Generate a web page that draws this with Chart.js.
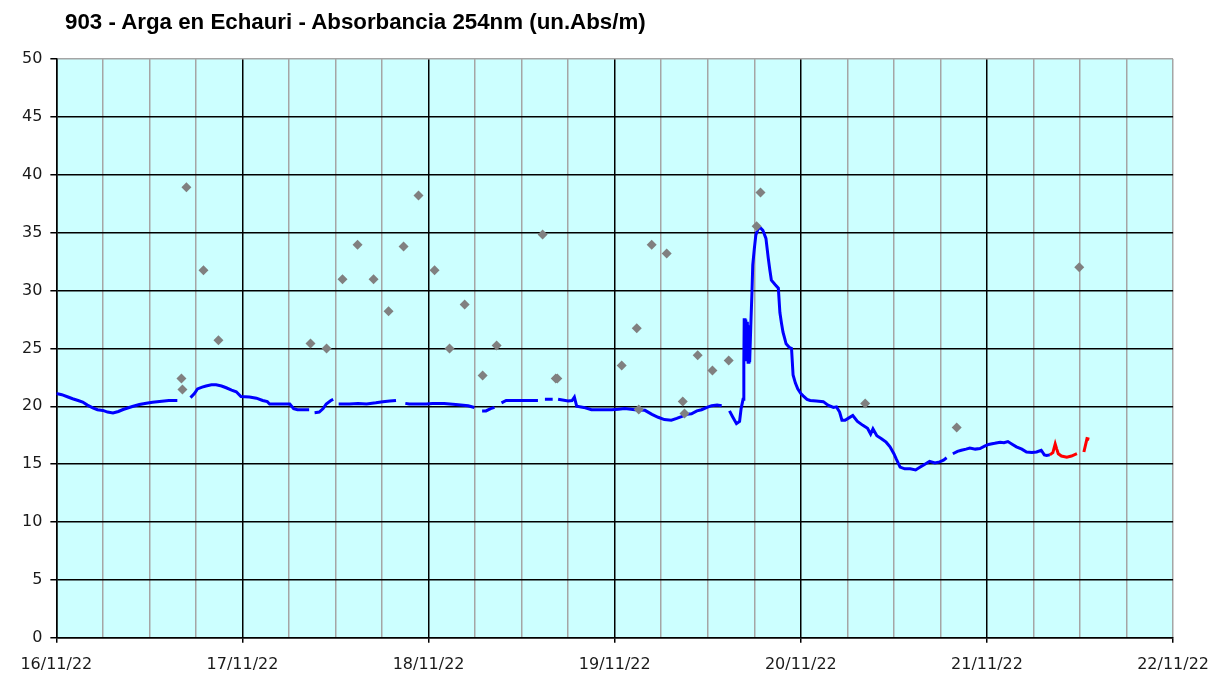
<!DOCTYPE html>
<html>
<head>
<meta charset="utf-8">
<script src="https://cdn.jsdelivr.net/npm/chart.js@4.4.0/dist/chart.umd.min.js"></script>
<style>
  body { margin: 0; background: #ffffff; overflow: hidden; }
  #wrap { width: 1221px; height: 675px; position: relative; }
  #title {
    position: absolute; left: 65px; top: 10px;
    font: bold 22.3px 'Liberation Sans', Arial, sans-serif;
    line-height: 24px; color: #000; white-space: nowrap;
  }
</style>
</head>
<body>
<div id="wrap">
  <div id="title">903 - Arga en Echauri - Absorbancia 254nm (un.Abs/m)</div>
  <canvas id="myChart"></canvas>
</div>
<script>
// hours counted from 16/11/22 00:00
var dayLabels = ['16/11/22', '17/11/22', '18/11/22', '19/11/22', '20/11/22', '21/11/22', '22/11/22'];

// Absorbancia validada (azul)
var blueHours = [0, 0.7, 1.5, 2.1, 2.8, 3.4, 4.0, 4.7, 5.3, 6.0, 6.6, 7.3, 8.0, 8.6, 9.2, 9.8, 10.7, 11.6, 12.4, 13.3, 14.5, 15.6,
  16.4, 17.3, 17.8, 18.2, 18.8, 19.3, 20.0, 20.6, 21.3, 21.9, 22.6, 23.2, 23.8, 24.9, 25.8, 26.6, 27.2, 27.5, 28.5, 30.1, 30.6, 31.1, 32.6,
  33.0, 33.3, 33.9, 34.4, 34.8, 35.4, 35.7, 36.0, 36.4, 37.8, 38.9, 40.0, 41.2, 42.1, 43.0, 43.8, 44.5, 45.0, 45.5, 46.6, 47.7,
  48.5, 50.0, 51.5, 53.1, 53.9, 54.5, 54.9, 55.4, 56.0, 56.5, 57.0, 57.4, 58.0, 60.0, 62.1, 62.6, 63.0, 64.0, 64.3, 64.7, 66.0, 66.5, 66.8, 67.1,
  68.0, 69.0, 70.3, 71.6, 72.5, 73.3, 74.6, 75.9, 76.8, 77.6, 78.4, 79.3, 80.0, 80.6, 81.3, 81.9, 82.6, 83.2, 83.9, 84.5, 85.2, 85.8,
  86.4, 86.8, 87.2, 87.7, 88.1, 88.3, 88.55, 88.65, 88.7, 88.8, 88.9, 89.0, 89.1, 89.2, 89.3, 89.4, 89.55, 89.7, 89.8, 90.0, 90.2, 90.5,
  90.8, 91.1, 91.5, 91.8, 92.0, 92.2, 92.7, 93.1, 93.3, 93.5, 93.7, 93.9, 94.1, 94.5, 94.8, 95.0, 95.3, 95.6, 96.0, 96.3, 96.8, 97.2,
  98.0, 98.9, 99.5, 100.2, 100.6, 101.0, 101.3, 101.7, 102.2, 102.7, 103.3, 104.0, 104.6, 105.0, 105.3, 105.8, 106.4, 107.0, 107.5,
  108.0, 108.3, 108.8, 109.4, 110.1, 110.8, 111.4, 112.0, 112.6, 113.3, 113.9, 114.4, 114.8, 115.2, 115.6, 116.2, 116.7, 117.3, 117.8,
  118.5, 119.1, 119.7, 120.2, 121.0, 121.7, 122.2, 122.7, 123.3, 123.8, 124.5, 125.1, 125.8, 126.4, 127.0, 127.4, 127.7, 128.1];
var blueValues = [21.1, 21.0, 20.8, 20.65, 20.5, 20.36, 20.1, 19.87, 19.7, 19.64, 19.5, 19.42, 19.55, 19.72, 19.85, 19.98, 20.15, 20.27, 20.35, 20.42, 20.5, 20.5,
  null, 20.75, 21.1, 21.5, 21.65, 21.75, 21.85, 21.85, 21.75, 21.6, 21.4, 21.25, 20.85, 20.8, 20.7, 20.5, 20.4, 20.2, 20.2, 20.2, 19.8, 19.7, 19.7,
  null, 19.45, 19.5, 19.8, 20.2, 20.5, 20.6, null, 20.2, 20.2, 20.25, 20.2, 20.3, 20.4, 20.45, 20.5, null, 20.25, 20.2, 20.2, 20.2,
  20.25, 20.25, 20.15, 20.05, 19.9, null, 19.6, 19.6, 19.8, 19.9, null, 20.3, 20.5, 20.5, 20.5, null, 20.6, 20.6, null, 20.6, 20.45, 20.5, 20.8, 20.0,
  19.9, 19.7, 19.7, 19.7, 19.75, 19.8, 19.7, 19.65, 19.3, 19.05, 18.85, 18.8, 18.95, 19.1, 19.3, 19.35, 19.6, 19.7, 19.9, 20.05, 20.1, 20.05,
  null, 19.6, 19.1, 18.5, 18.7, 19.8, 20.6, 23.8, 27.6, 23.9, 27.5, 23.9, 27.3, 23.8, 27.0, 23.8, 27.0, 29.9, 32.2, 33.6, 34.8, 35.35,
  35.4, 35.2, 34.5, 32.8, 31.8, 30.9, 30.5, 30.2, 28.1, 27.2, 26.4, 25.9, 25.4, 25.1, 25.0, 22.7, 22.0, 21.5, 21.1, 20.9, 20.6, 20.5,
  20.45, 20.4, 20.1, 19.9, 19.95, 19.5, 18.8, 18.8, 19.0, 19.2, 18.7, 18.35, 18.1, 17.6, 18.05, 17.45, 17.2, 16.9, 16.5,
  15.9, 15.45, 14.75, 14.6, 14.6, 14.5, 14.75, 15.0, 15.25, 15.1, 15.2, 15.35, 15.55, null, 15.9, 16.1, 16.2, 16.3, 16.4,
  16.3, 16.35, 16.55, 16.7, 16.8, 16.9, 16.85, 16.95, 16.7, 16.5, 16.3, 16.05, 16.0, 16.05, 16.2, 15.8, 15.75, 15.8];

// Absorbancia sin validar (rojo)
var redHours = [128.1, 128.5, 128.8, 129.0, 129.2, 129.6, 130.3, 130.9, 131.6, 132.0, 132.5, 132.9, 133.2];
var redValues = [15.8, 16.0, 16.75, 16.3, 15.9, 15.7, 15.6, 15.7, 15.9, null, 16.05, 17.2, 17.15];

// Muestras puntuales (rombos grises)
var sampleHours = [16.13, 16.26, 16.77, 18.97, 20.9, 32.77, 34.84, 36.9, 38.84, 40.9, 42.84, 44.77, 46.7, 48.77, 50.7, 52.65, 54.97, 56.77,
  62.7, 64.4, 64.6, 72.9, 74.84, 75.1, 76.77, 78.7, 80.77, 81.0, 82.7, 84.6, 86.7, 90.3, 90.8, 104.3, 116.1, 131.9];
var sampleValues = [22.4, 21.45, 38.93, 31.75, 25.7, 25.43, 25.0, 30.97, 33.95, 30.97, 28.2, 33.8, 38.2, 31.75, 25.0, 28.8, 22.66, 25.26,
  34.85, 22.4, 22.4, 23.53, 26.73, 19.72, 33.95, 33.2, 20.42, 19.38, 24.4, 23.1, 23.96, 35.55, 38.47, 20.24, 18.17, 32.0];

function toPoints(xs, ys) {
  var pts = [];
  for (var i = 0; i < xs.length; i++) {
    pts.push({ x: xs[i], y: ys[i] });
  }
  return pts;
}

var BLACK = '#000000';
var GRAY = '#a5a5a5';
var tickFont = { family: "'DejaVu Sans', Verdana, sans-serif", size: 16 };

// fondo cian del area de trazado
var plotBackground = {
  id: 'plotBackground',
  beforeDraw: function(chart) {
    var a = chart.chartArea;
    var c = chart.ctx;
    c.save();
    c.fillStyle = '#ccffff';
    c.fillRect(a.left, a.top, a.right - a.left, a.bottom - a.top);
    c.restore();
  }
};

var ctx = document.getElementById('myChart').getContext('2d');
var myChart = new Chart(ctx, {
  type: 'scatter',
  data: {
    datasets: [
      {
        label: 'Muestras',
        data: toPoints(sampleHours, sampleValues),
        pointStyle: 'rectRot',
        pointRadius: 5,
        pointBackgroundColor: '#808080',
        pointBorderWidth: 0,
        showLine: false
      },
      {
        label: 'Validado',
        data: toPoints(blueHours, blueValues),
        showLine: true,
        borderColor: '#0000ff',
        borderWidth: 3,
        pointRadius: 0,
        spanGaps: false
      },
      {
        label: 'Sin validar',
        data: toPoints(redHours, redValues),
        showLine: true,
        borderColor: '#ff0000',
        borderWidth: 3,
        pointRadius: 0,
        spanGaps: false
      }
    ]
  },
  options: {
    responsive: true,
    maintainAspectRatio: false,
    animation: false,
    layout: { padding: { left: 14, right: 38, bottom: -11, top: 59 } },
    plugins: {
      legend: { display: false },
      tooltip: { enabled: false },
      title: { display: false }
    },
    scales: {
      x: {
        type: 'linear',
        min: 0,
        max: 144,
        ticks: {
          stepSize: 6,
          autoSkip: false,
          maxRotation: 0,
          padding: 12,
          color: '#1a1a1a',
          font: tickFont,
          callback: function(v) {
            return v % 24 === 0 ? dayLabels[v / 24] : '';
          }
        },
        grid: {
          lineWidth: 1.5,
          tickLength: 5,
          color: function(c) {
            var v = c.tick.value;
            return (v % 24 === 0 && v !== 144) ? BLACK : GRAY;
          },
          tickColor: function(c) {
            return c.tick.value % 24 === 0 ? BLACK : 'rgba(0,0,0,0)';
          }
        },
        border: { color: BLACK, width: 1.5 }
      },
      y: {
        min: 0,
        max: 50,
        ticks: {
          stepSize: 5,
          padding: 8,
          color: '#1a1a1a',
          font: tickFont
        },
        grid: {
          lineWidth: 1.5,
          tickLength: 6,
          color: function(c) {
            return c.tick.value === 50 ? GRAY : BLACK;
          },
          tickColor: BLACK
        },
        border: { color: BLACK, width: 1.5 }
      }
    }
  },
  plugins: [plotBackground]
});
</script>
</body>
</html>
